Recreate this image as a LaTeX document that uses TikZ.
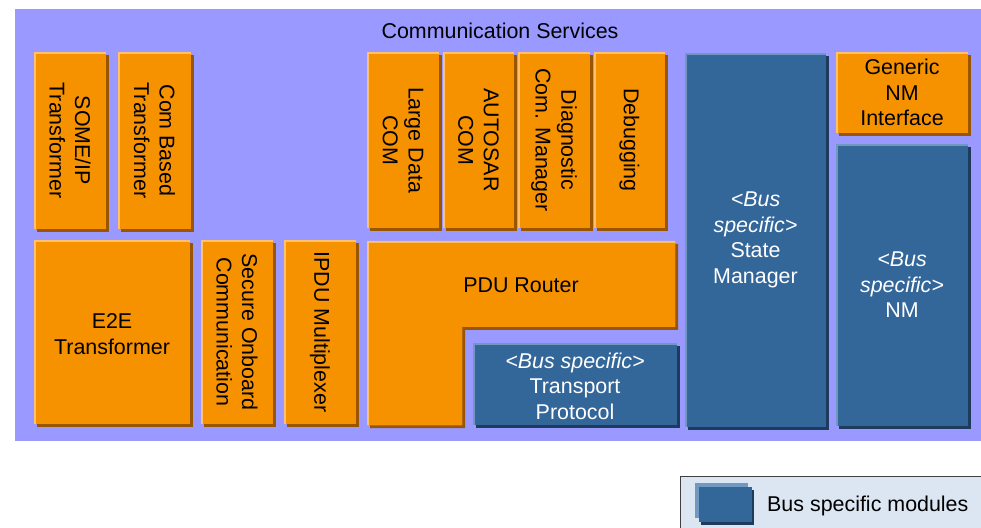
\documentclass[tikz,border=0pt]{standalone}
\usepackage{fontspec}
\setmainfont{Liberation Sans}
\definecolor{BgPurple}{RGB}{153,153,255}
\definecolor{OrBody}{RGB}{246,146,0}
\definecolor{OrLight}{RGB}{255,192,112}
\definecolor{OrShadow}{RGB}{153,85,0}
\definecolor{BlBody}{RGB}{51,102,153}
\definecolor{BlLight}{RGB}{112,152,192}
\definecolor{BlShadow}{RGB}{30,58,92}
\definecolor{LegFill}{RGB}{220,230,242}
\tikzset{
  oshadow/.style={fill=OrShadow},
  olight/.style={fill=OrLight},
  obody/.style={fill=OrBody},
  otext/.style={text=black, align=center, inner sep=0pt, font=\fontsize{21.5}{25.7}\selectfont},
  bshadow/.style={fill=BlShadow},
  blight/.style={fill=BlLight},
  bbody/.style={fill=BlBody},
  btext/.style={text=white, align=center, inner sep=0pt, font=\fontsize{21.5}{25.7}\selectfont},
  vert/.style={rotate=-90},
}
% #1 palette (o/b), #2 name, #3 x1, #4 y1, #5 x2, #6 y2, #7 node options, #8 text
\newcommand\modbox[8]{%
  \fill[#1shadow] ({#3+3},{#4+3}) rectangle ({#5+3},{#6+3});
  \fill[#1light] (#3,#4) rectangle (#5,#6);
  \fill[#1body] ({#3+2},{#4+2}) rectangle (#5,#6);
  \node[#1text,#7] (#2) at ({(#3+#5)/2},{(#4+#6)/2}) {#8};
}
\begin{document}
\begin{tikzpicture}[x=1bp,y=-1bp]
\useasboundingbox (0,0) rectangle (981,528);
\clip (0,0) rectangle (981,528);
\fill[BgPurple] (15,9) rectangle (985,441);
\node[otext] (title) at (500,31) {Communication Services};

\modbox{o}{someip}{34}{52}{106}{229}{vert}{SOME/IP\\Transformer}
\modbox{o}{combased}{118}{52}{191}{229}{vert}{Com Based\\Transformer}
\modbox{o}{ldcom}{367}{52}{439}{228}{vert}{Large Data\\COM}
\modbox{o}{acom}{443}{52}{514}{228}{vert}{AUTOSAR\\COM}
\modbox{o}{dcm}{518}{52}{590}{228}{vert}{Diagnostic\\Com. Manager}
\modbox{o}{dbg}{594}{52}{665}{228}{vert}{Debugging}
\modbox{b}{sm}{685}{53}{826}{427}{}{\textit{<Bus}\\\textit{specific>}\\State\\Manager}
\modbox{o}{gnm}{836}{52}{968}{133}{}{Generic\\NM\\Interface}
\modbox{b}{nm}{836}{144}{968}{426}{}{\textit{<Bus}\\\textit{specific>}\\NM}
\modbox{o}{e2e}{34}{240}{190}{424}{yshift=-2bp}{E2E\\Transformer}
\modbox{o}{secoc}{201}{240}{273}{424}{vert}{Secure Onboard\\Communication}
\modbox{o}{ipdum}{284}{240}{356}{424}{vert}{IPDU Multiplexer}

% PDU Router (L-shape)
\fill[oshadow] (370,244) -- (678,244) -- (678,330) -- (465,330) -- (465,428) -- (370,428) -- cycle;
\fill[olight] (367,241) -- (675,241) -- (675,327) -- (462,327) -- (462,425) -- (367,425) -- cycle;
\fill[obody] (369,243) -- (675,243) -- (675,327) -- (462,327) -- (462,425) -- (369,425) -- cycle;
\node[otext] (pdur) at (521,285) {PDU Router};

\modbox{b}{tp}{473}{343}{677}{425}{yshift=-2bp}{\textit{<Bus specific>}\\Transport\\Protocol}

% Legend
\draw[fill=LegFill, draw=black!75, line width=1bp] (680,476) rectangle (990,540);
\fill[BlShadow] (701,490) rectangle (754,525);
\fill[BlLight] (695,483) rectangle (748,518);
\fill[BlBody] (699,487) rectangle (752,522);
\node[otext, anchor=west] (legtext) at (767,506) {Bus specific modules};
\end{tikzpicture}
\end{document}
